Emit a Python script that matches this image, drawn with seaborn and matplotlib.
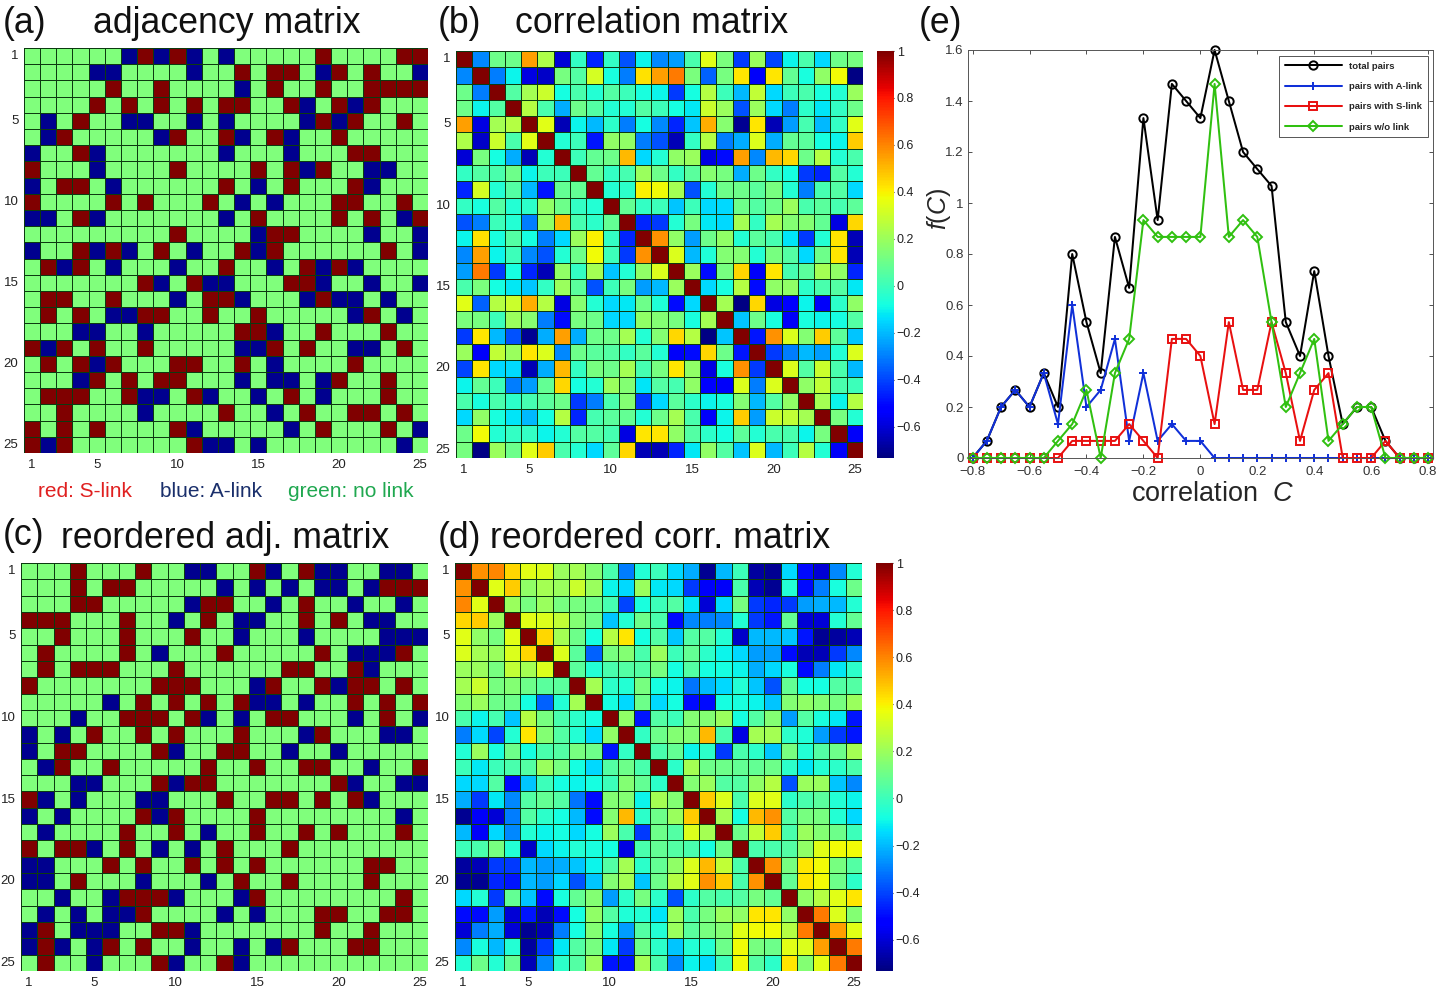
import numpy as np
import pandas as pd
import seaborn as sns
from matplotlib import pyplot as plt
from matplotlib.colors import ListedColormap

# r = S-link, b = A-link, . = no link
adj_rows = [
    "......brbrb.b.....r....rr",
    "....bb....b..r.rr.br.r..b",
    ".....r..r....b.r..r..rrrr",
    "....r.r.r.r.rr..rb.rbr...",
    ".b.r..bb..b.b....brbr..r.",
    ".br.....br..rb.rb..r.....",
    "b..rb.......b...b...rr...",
    "r...b....r....r.rbr..bb..",
    "b.rr.b......r.b.r...rb...",
    "r....r.r...r.b.b...rr..r.",
    "bb.rb.......b.r....r.r.br",
    ".........r....brr....b..b",
    "b..rbrb.r.b..rbr......r.b",
    ".rbr.b...b..r..b.rbrb....",
    ".......rb.rbb...rrb..b..b",
    ".rr..r...b.rrb...brbb.b..",
    ".r.r.bbrr..r..r.....br.b.",
    "...bb..b.....rrb..r...r..",
    "rbr.r..r.....bbr.r..bb.r.",
    ".r.rbr...rr..r.b....r....",
    "...br.r.rr...b.bb.br..r..",
    ".rrr..rbb.rb..b.r.b...r..",
    "..r....b....r..b.r..rr.r.",
    "r.r.r....rb.....b.r...r.b",
    "rbr.......rbb.b........b.",
]

reordered_adj_rows = [
    "...r...r..bb..rb.rbb..bb.",
    "...r.rr.....b.b.b.bb.brrr",
    "...rr.....brr..b.r..b..b.",
    "rrr...r..b.r.bb..r.r.bb..",
    "..r...r...r..b...b....bbb",
    ".r....r.b...r.....r.bbbr.",
    ".r.rrr...r......rr..rb...",
    "r.......rrr...br..rbrr.r.",
    ".....b.r.r.r.rbb.b..r.r.r",
    "...b..rrr.rb.b.rr...b.r.b",
    "b.b.r..r.r...r...br...bb.",
    "b.rr....rb..rr..b..b.....",
    ".br..r.....r..r..rr..b..r",
    "...bb...rbrr.......rb..bb",
    "rb.b...bb...r..rr.r.rb...",
    "b.b....rbr....r........b.",
    ".b....r..r.b..r..r.r...r.",
    "r.rrb.r.b.b.r...r........",
    "bb...r.r..r.r.r......rr..",
    "bb.r...b...b.r..r....r...",
    "..b..brrrb...br........r.",
    ".b.b.bbr....b.b...rr..rr.",
    "br.bbb..rrb.......r..r...",
    "brb.br.r..b..b.br...rr...",
    ".r..b...rb..rb...........",
]

# upper triangles, each row starts at the diagonal
corr_upper = [
    [1, -0.28, 0.1, 0.1, 0.55, 0.24, -0.6, -0.02, -0.45, -0.02, -0.38, -0.1, -0.28, -0.25, 0.03, 0.35, 0.13, -0.42, 0.2, -0.4, -0.1, 0.03, -0.15, 0.1, 0.12],
    [1, -0.3, -0.1, -0.58, -0.62, 0.12, 0.05, 0.32, -0.07, -0.3, 0.43, 0.55, 0.62, 0.13, -0.35, 0.12, 0.42, -0.55, 0.42, 0.08, -0.07, 0.18, 0.38, -0.72],
    [1, 0.05, 0.22, 0.3, -0.08, 0.03, -0.05, 0.05, 0.0, -0.07, -0.1, -0.42, -0.08, 0.25, 0.0, -0.2, 0.28, -0.15, 0.0, 0.03, -0.07, -0.05, 0.2],
    [1, 0.25, 0.03, -0.22, 0.1, 0.05, -0.05, -0.05, 0.05, 0.0, -0.08, -0.12, 0.3, 0.2, -0.38, 0.2, -0.15, -0.3, -0.03, -0.13, -0.02, 0.1],
    [1, 0.35, -0.65, -0.1, -0.2, -0.03, -0.3, -0.08, -0.28, -0.45, -0.18, 0.52, 0.16, -0.7, 0.42, -0.65, -0.25, 0.02, -0.2, -0.02, 0.35],
    [1, -0.05, 0.0, -0.48, 0.18, 0.18, -0.3, -0.38, -0.65, -0.02, 0.25, -0.3, -0.22, 0.33, -0.22, 0.08, 0.06, -0.08, -0.1, 0.47],
    [1, 0.0, 0.08, 0.1, 0.5, -0.15, -0.05, 0.18, 0.2, -0.58, -0.5, 0.55, -0.28, 0.5, 0.45, 0.1, 0.25, -0.05, 0.03],
    [1, 0.08, -0.02, 0.02, 0.2, 0.1, -0.02, 0.06, 0.16, 0.12, -0.22, 0.1, -0.02, -0.08, -0.42, -0.45, 0.05, -0.05],
    [1, -0.05, -0.03, 0.4, 0.38, 0.22, -0.38, -0.05, 0.1, 0.1, 0.06, 0.12, -0.05, -0.3, 0.02, 0.05, -0.15],
    [1, 0.08, -0.02, 0.0, -0.18, 0.0, -0.15, -0.15, 0.1, 0.05, 0.1, 0.2, 0.03, 0.06, 0.02, 0.07],
    [1, -0.45, -0.42, -0.05, 0.12, -0.12, -0.15, 0.22, -0.02, 0.22, 0.15, 0.15, 0.08, -0.58, 0.45],
    [1, 0.58, 0.18, -0.25, 0.1, 0.18, -0.05, 0.06, 0.02, -0.13, -0.42, -0.05, 0.42, -0.65],
    [1, 0.33, -0.2, -0.06, 0.15, 0.15, -0.05, 0.12, 0.05, -0.15, 0.1, 0.42, -0.65],
    [1, 0.2, -0.5, 0.12, 0.45, -0.55, 0.42, 0.02, 0.06, 0.22, 0.18, -0.45],
    [1, -0.15, -0.07, 0.25, -0.5, 0.18, 0.18, -0.03, 0.03, 0.05, -0.12],
    [1, 0.22, -0.72, 0.45, -0.58, -0.52, -0.1, -0.55, -0.03, 0.18],
    [1, -0.18, 0.1, -0.07, -0.55, -0.07, -0.1, -0.08, 0.05],
    [1, -0.48, 0.58, 0.33, 0.15, 0.47, 0.07, -0.18],
    [1, -0.42, -0.3, -0.2, -0.25, -0.05, 0.33],
    [1, 0.33, 0.05, 0.3, 0.03, -0.2],
    [1, 0.18, 0.28, 0.03, 0.0],
    [1, 0.22, -0.1, 0.25],
    [1, 0.12, -0.05],
    [1, -0.55],
    [1],
]

reordered_corr_upper = [
    [1, 0.58, 0.6, 0.45, 0.35, 0.33, 0.2, 0.22, 0.15, 0.03, -0.3, -0.05, 0.0, -0.15, -0.22, -0.7, -0.2, 0.0, -0.68, -0.7, -0.15, -0.5, -0.6, -0.28, -0.05],
    [1, 0.35, 0.47, 0.18, 0.22, 0.2, 0.3, 0.2, -0.1, -0.15, 0.2, -0.12, -0.15, -0.42, -0.55, -0.55, 0.03, -0.65, -0.7, -0.05, -0.5, -0.3, -0.07, 0.1],
    [1, 0.2, 0.12, 0.2, 0.12, 0.12, 0.1, 0.02, -0.4, -0.07, 0.0, 0.05, -0.12, -0.6, -0.15, 0.12, -0.42, -0.45, -0.42, -0.25, -0.22, -0.2, -0.05],
    [1, 0.35, 0.33, 0.28, 0.15, 0.1, -0.18, -0.05, 0.1, 0.03, -0.5, -0.28, -0.3, -0.28, -0.05, -0.42, -0.48, 0.08, -0.6, -0.6, -0.05, 0.08],
    [1, 0.45, 0.22, 0.1, -0.08, 0.25, 0.42, -0.08, 0.05, -0.18, 0.05, 0.05, -0.05, -0.62, -0.2, -0.2, -0.18, -0.48, -0.7, -0.68, -0.65],
    [1, 0.33, 0.06, -0.35, 0.12, 0.15, 0.03, 0.2, 0.0, 0.08, -0.03, -0.1, -0.15, -0.25, -0.25, -0.5, -0.65, -0.65, -0.42, -0.28],
    [1, 0.06, -0.05, 0.03, 0.05, 0.05, 0.12, -0.08, 0.05, -0.08, -0.08, -0.1, -0.22, -0.15, -0.07, -0.5, -0.3, -0.12, -0.03],
    [1, 0.22, -0.03, -0.05, 0.12, -0.08, -0.1, -0.32, -0.2, -0.15, -0.05, -0.18, -0.38, 0.08, -0.08, -0.08, 0.05, 0.05],
    [1, -0.08, -0.15, 0.1, -0.15, -0.08, -0.5, -0.5, -0.08, -0.07, -0.1, -0.18, 0.15, 0.18, 0.15, 0.12, 0.2],
    [1, 0.18, -0.48, 0.05, 0.0, 0.15, 0.15, 0.2, -0.08, 0.05, 0.15, -0.25, 0.05, -0.07, -0.12, -0.48],
    [1, -0.02, 0.1, 0.15, 0.15, 0.5, 0.03, -0.58, 0.22, 0.22, -0.03, -0.06, -0.25, -0.42, -0.48],
    [1, 0.03, 0.08, -0.1, -0.03, -0.42, 0.03, -0.03, -0.18, 0.12, -0.05, 0.05, 0.1, 0.22],
    [1, -0.03, 0.22, 0.1, 0.1, 0.08, 0.08, 0.1, -0.03, -0.13, -0.05, -0.03, 0.03],
    [1, 0.15, 0.2, 0.05, 0.05, 0.18, 0.25, -0.38, 0.2, 0.2, -0.18, -0.28],
    [1, 0.47, 0.33, 0.03, 0.33, 0.35, -0.03, 0.03, 0.06, -0.05, -0.1],
    [1, 0.22, -0.08, 0.5, 0.58, 0.05, 0.12, 0.12, -0.05, -0.15],
    [1, 0.1, 0.28, 0.47, 0.03, 0.2, 0.15, 0.1, 0.0],
    [1, 0.03, 0.03, 0.05, 0.18, 0.35, 0.38, 0.38],
    [1, 0.58, 0.12, 0.42, 0.38, 0.12, 0.05],
    [1, 0.08, 0.42, 0.38, 0.1, -0.03],
    [1, 0.18, 0.25, 0.35, 0.42],
    [1, 0.62, 0.33, 0.15],
    [1, 0.55, 0.35],
    [1, 0.62],
    [1],
]

corr_bins = [-0.8, -0.75, -0.7, -0.65, -0.6, -0.55, -0.5, -0.45, -0.4, -0.35, -0.3, -0.25, -0.2, -0.15, -0.1, -0.05, 0,
             0.05, 0.1, 0.15, 0.2, 0.25, 0.3, 0.35, 0.4, 0.45, 0.5, 0.55, 0.6, 0.65, 0.7, 0.75, 0.8]
total_pairs = [0, 0.067, 0.2, 0.267, 0.2, 0.333, 0.2, 0.8, 0.533, 0.333, 0.867, 0.667, 1.333, 0.933, 1.467, 1.4, 1.333,
               1.6, 1.4, 1.2, 1.133, 1.067, 0.533, 0.4, 0.733, 0.4, 0.133, 0.2, 0.2, 0.067, 0, 0, 0]
a_link_pairs = [0, 0.067, 0.2, 0.267, 0.2, 0.333, 0.133, 0.6, 0.2, 0.267, 0.467, 0.067, 0.333, 0.067, 0.133, 0.067, 0.067,
                0, 0, 0, 0, 0, 0, 0, 0, 0, 0, 0, 0, 0, 0, 0, 0]
s_link_pairs = [0, 0, 0, 0, 0, 0, 0, 0.067, 0.067, 0.067, 0.067, 0.133, 0.067, 0, 0.467, 0.467, 0.4,
                0.133, 0.533, 0.267, 0.267, 0.533, 0.333, 0.067, 0.267, 0.333, 0, 0, 0, 0.067, 0, 0, 0]
no_link_pairs = [0, 0, 0, 0, 0, 0, 0.067, 0.133, 0.267, 0, 0.333, 0.467, 0.933, 0.867, 0.867, 0.867, 0.867,
                 1.467, 0.867, 0.933, 0.867, 0.533, 0.2, 0.333, 0.467, 0.067, 0.133, 0.2, 0.2, 0, 0, 0, 0]

matrix_ticks = [1, 5, 10, 15, 20, 25]
cbar_ticks = [-0.6, -0.4, -0.2, 0, 0.2, 0.4, 0.6, 0.8, 1]
cbar_labels = ['\u22120.6', '\u22120.4', '\u22120.2', '0', '0.2', '0.4', '0.6', '0.8', '1']
e_xticks = [-0.8, -0.6, -0.4, -0.2, 0, 0.2, 0.4, 0.6, 0.8]
e_xlabels = ['\u22120.8', '\u22120.6', '\u22120.4', '\u22120.2', '0', '0.2', '0.4', '0.6', '0.8']
e_yticks = [0, 0.2, 0.4, 0.6, 0.8, 1, 1.2, 1.4, 1.6]
e_ylabels = ['0', '0.2', '0.4', '0.6', '0.8', '1', '1.2', '1.4', '1.6']

W, H = 1440, 994


def rows_to_matrix(rows):
    codes = {'r': 1, 'b': -1, '.': 0}
    return np.array([[codes[c] for c in row] for row in rows])


def upper_to_matrix(upper):
    m = np.zeros((25, 25))
    for i, row in enumerate(upper):
        m[i, i:] = row
        m[i:, i] = row
    return m


def px_axes(fig, left, top, right, bottom):
    return fig.add_axes([left / W, 1 - bottom / H, (right - left) / W, (bottom - top) / H])


def set_matrix_ticks(ax):
    ax.set_xticks([t - 0.5 for t in matrix_ticks], matrix_ticks, rotation=0)
    ax.set_yticks([t - 0.5 for t in matrix_ticks], matrix_ticks, rotation=0)
    ax.tick_params(length=0, labelsize=9.5, pad=4, colors='#222222')
    ax.set_xlabel('')
    ax.set_ylabel('')


def draw_adj(fig, rows, box):
    ax = px_axes(fig, *box)
    sns.heatmap(pd.DataFrame(rows_to_matrix(rows)), ax=ax, cmap=link_cmap, vmin=-1, vmax=1, cbar=False,
                linewidths=0.6, linecolor='#0c3a10', square=False)
    set_matrix_ticks(ax)
    return ax


def draw_corr(fig, upper, box, cbar_box):
    ax = px_axes(fig, *box)
    cax = px_axes(fig, *cbar_box)
    sns.heatmap(pd.DataFrame(upper_to_matrix(upper)), ax=ax, cmap='jet', vmin=-0.733, vmax=1, cbar_ax=cax,
                linewidths=0.6, linecolor='#0c3a10', square=False)
    set_matrix_ticks(ax)
    cax.set_yticks(cbar_ticks, cbar_labels)
    cax.tick_params(direction='in', length=2, labelsize=9, pad=2, colors='#222222')
    return ax


sns.set_style('white')
plt.rcParams['font.family'] = ['Liberation Sans', 'DejaVu Sans']
plt.rcParams['mathtext.fontset'] = 'custom'
plt.rcParams['mathtext.it'] = 'Liberation Sans:italic'
plt.rcParams['mathtext.rm'] = 'Liberation Sans'

link_cmap = ListedColormap(['#00008f', '#80ff7c', '#800000'])

fig = plt.figure(figsize=(14.4, 9.94), dpi=100)

draw_adj(fig, adj_rows, (24, 48, 428, 453))
draw_corr(fig, corr_upper, (456, 51, 863, 458), (877, 51, 894, 458))
draw_adj(fig, reordered_adj_rows, (21, 563, 428, 971))
draw_corr(fig, reordered_corr_upper, (455, 563, 862, 971), (876, 563, 893, 971))

# Panel (e)
ax = px_axes(fig, 968, 50, 1433, 458)
line_df = pd.DataFrame({'C': corr_bins, 'total pairs': total_pairs, 'pairs with A-link': a_link_pairs,
                        'pairs with S-link': s_link_pairs, 'pairs w/o link': no_link_pairs})
styles = [('total pairs', 'black', 'o'),
          ('pairs with A-link', '#1030d8', '+'),
          ('pairs with S-link', '#e81010', 's'),
          ('pairs w/o link', '#30c010', 'D')]
for name, color, marker in styles:
    sns.lineplot(data=line_df, x='C', y=name, ax=ax, color=color, marker=marker, markersize=6 if marker != 'D' else 5,
                 markerfacecolor='none', markeredgecolor=color, markeredgewidth=1.4, linewidth=1.45, label=name,
                 clip_on=False, errorbar=None)
ax.set_xlim(-0.816, 0.817)
ax.set_ylim(0, 1.6)
ax.set_xticks(e_xticks, e_xlabels)
ax.set_yticks(e_yticks, e_ylabels)
ax.tick_params(direction='in', length=3, width=0.6, labelsize=9.5, top=True, right=True, bottom=True, left=True,
               colors='#333333')
ax.tick_params(axis='x', pad=6)
ax.tick_params(axis='y', pad=3)
for s in ax.spines.values():
    s.set_linewidth(0.7)
    s.set_color('#555555')
ax.set_xlabel('correlation  $\\mathit{C}$', fontsize=19.5)
ax.xaxis.set_label_coords(0.526, -0.057)
ax.set_ylabel('$\\mathit{f}$($\\mathit{C}$)', fontsize=18)
ax.yaxis.set_label_coords(-0.032, 0.61)
leg = ax.legend(loc='upper right', bbox_to_anchor=(0.989, 0.985), fancybox=False, framealpha=1, edgecolor='#555555',
                prop={'size': 6.8, 'weight': 'bold'}, handlelength=6, labelspacing=1.2, borderpad=0.6, borderaxespad=0)
leg.get_frame().set_linewidth(0.7)

# Panel titles
title_kw = dict(fontsize=25.7, va='baseline', color='#111111')
for label, x, y in [('(a)', 3, 33), ('(b)', 438, 33), ('(c)', 3, 545), ('(d)', 438, 548), ('(e)', 919, 33)]:
    fig.text(x / W, 1 - y / H, label, **title_kw)
for label, x, y in [('adjacency matrix', 93, 33), ('correlation matrix', 515, 33),
                    ('reordered adj. matrix', 61, 548), ('reordered corr. matrix', 490, 548)]:
    fig.text(x / W, 1 - y / H, label, **title_kw)

# Colour key under panel (a)
for label, x, color in [('red: S-link', 38, '#e02020'), ('blue: A-link', 160, '#1a2f6b'), ('green: no link', 288, '#20a850')]:
    fig.text(x / W, 1 - 497 / H, label, fontsize=15, color=color, va='baseline')

plt.savefig('out.png', dpi=100)
